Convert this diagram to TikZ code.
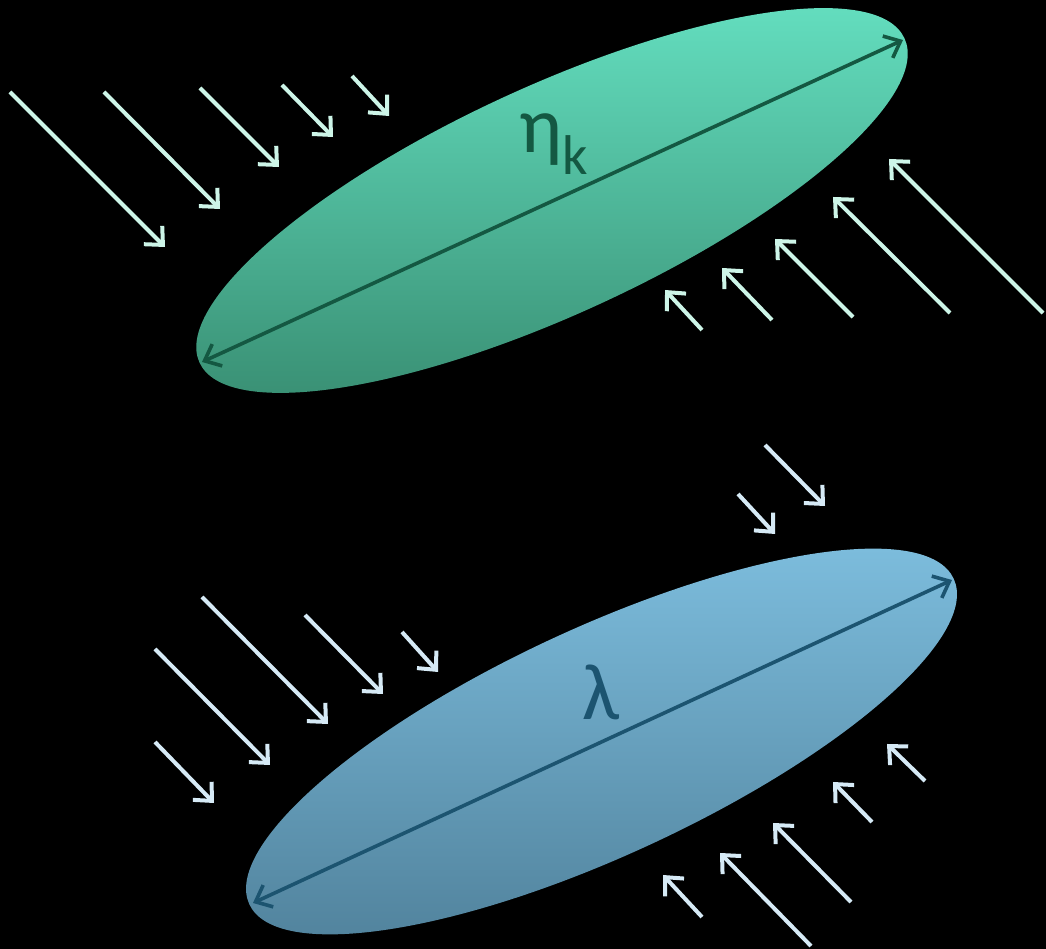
\documentclass[tikz,border=0pt]{standalone}
\usepackage{fontspec}
\setmainfont{Carlito}
\usetikzlibrary{arrows.meta}

\definecolor{greentop}{RGB}{99,221,190}
\definecolor{greenbot}{RGB}{58,145,117}
\definecolor{greendark}{RGB}{20,88,66}
\definecolor{bluetop}{RGB}{124,188,220}
\definecolor{bluebot}{RGB}{82,132,158}
\definecolor{bluedark}{RGB}{28,84,112}
\definecolor{mint}{RGB}{205,245,232}
\definecolor{paleblue}{RGB}{214,234,246}

\begin{document}
\begin{tikzpicture}[x=1pt,y=1pt,
  incoming/.style={line width=4pt,-{Straight Barb[length=14pt,width=26pt]}},
  axisarrow/.style={line width=3.6pt,{Straight Barb[length=14pt,width=24pt]}-{Straight Barb[length=14pt,width=24pt]}}]
  % Hintergrund (legt auch den Rahmen fest)
  \fill[black] (0,0) rectangle (1046,949);
  % obere Ellipse
  \shade[top color=greentop,bottom color=greenbot] (552,748.5) ellipse [x radius=388,y radius=114,rotate=24.7];
  \coordinate (etaA) at (202,587);
  \coordinate (etaB) at (903,909);
  \draw[axisarrow,greendark] (etaA) -- (etaB);
  \node[text=greendark,anchor=base west,inner sep=0pt,font=\fontsize{80}{80}\selectfont] (etalabel) at (519,796) {η\raisebox{-22pt}{\fontsize{56}{56}\selectfont k}};
  % einfallende Pfeile oben
  \foreach \xa/\ya/\xb/\yb in {10/857/165/702, 104/857/220/740, 200/861/279/782, 282/864/333/812, 352/873/389/833,
    702/619/665/659, 772/629/722/681, 853/632/775/710, 950/636/833/752, 1043/636/889/790}{
    \draw[incoming,mint] (\xa,\ya) -- (\xb,\yb);
  }
  % untere Ellipse
  \shade[top color=bluetop,bottom color=bluebot] (601.5,207.5) ellipse [x radius=388,y radius=114,rotate=24.8];
  \coordinate (lamA) at (253,46);
  \coordinate (lamB) at (952,369);
  \draw[axisarrow,bluedark] (lamA) -- (lamB);
  \node[text=bluedark,anchor=base,inner sep=0pt,font=\fontsize{80}{80}\selectfont] (lamlabel) at (601,229) {λ};
  % einfallende Pfeile unten
  \foreach \xa/\ya/\xb/\yb in {155/207/214/146, 155/300/270/184, 202/352/328/225, 305/334/383/255, 402/317/438/277,
    738/455/775/415, 765/504/825/443,
    702/32/663/74, 811/3/720/96, 851/47/773/126, 872/127/833/167, 925/168/887/205}{
    \draw[incoming,paleblue] (\xa,\ya) -- (\xb,\yb);
  }
\end{tikzpicture}
\end{document}
